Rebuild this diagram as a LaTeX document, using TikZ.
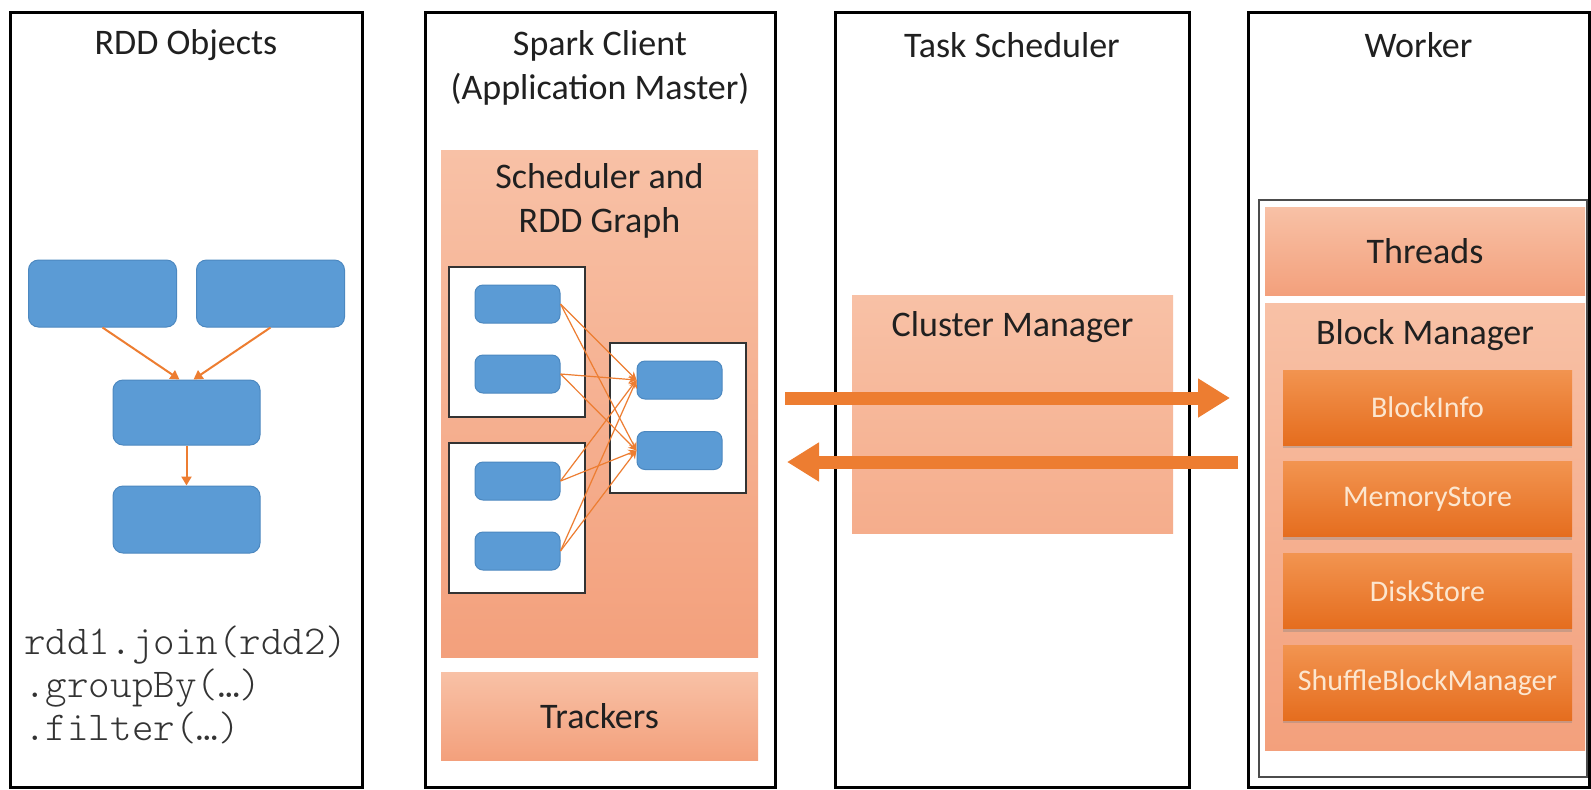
\documentclass[tikz,border=0pt]{standalone}
\usepackage{fontspec}
\setmainfont{Carlito}
\newfontfamily\codefont{lmmonolt10-regular.otf}
\usepackage{tikz}
\usetikzlibrary{positioning, arrows.meta, shadows}
\definecolor{salmon}{HTML}{F5AD8C}
\definecolor{salmonhi}{HTML}{F8C1A6}
\definecolor{salmonlo}{HTML}{F3A07C}
\definecolor{rddblue}{HTML}{5B9BD5}
\definecolor{rddedge}{HTML}{4C88C0}
\definecolor{flow}{HTML}{ED7D31}
\definecolor{ember}{HTML}{F29450}
\definecolor{emberlo}{HTML}{E56D1E}
\definecolor{cream}{HTML}{FCE6CF}
\definecolor{ink}{HTML}{202020}
\newcommand{\bigfont}{\fontsize{18}{22}\selectfont}

\begin{document}
\begin{tikzpicture}[x=0.5pt, y=-0.5pt,
  every node/.style={font=\bigfont, align=center, text=ink, inner sep=0pt},
  column/.style={draw=black, line width=1.5pt, fill=white, minimum height=387.5pt},
  panel/.style={top color=salmonhi, bottom color=salmonlo, minimum width=158.5pt},
  rdd/.style={fill=rddblue, draw=rddedge, line width=0.5pt, rounded corners=5pt},
  task/.style={rdd, rounded corners=4pt, minimum width=42.5pt, minimum height=19pt},
  stage/.style={draw=black!80, line width=1pt, fill=white, minimum width=68pt, minimum height=75pt},
  store/.style={top color=ember, bottom color=emberlo, text=cream,
    font=\fontsize{15}{18}\selectfont, minimum width=144.5pt, minimum height=37.5pt,
    drop shadow={shadow xshift=0pt, shadow yshift=-1.5pt, opacity=0.35}},
  dep/.style={draw=flow, line width=1pt, -{Triangle[length=4.5pt, width=5pt]}},
  shuffle/.style={draw=flow, line width=0.6pt, -{Stealth[length=4pt, width=4pt]}},
  msg/.style={draw=flow, line width=6.5pt, -{Triangle[length=16pt, width=18.5pt]}}]
\useasboundingbox (0,0) rectangle (1591,789);

% columns
\node[column, minimum width=176pt] (rddcol) at (186,399.5) {};
\node[column, minimum width=175pt] (client) at (600,399.5) {};
\node[column, minimum width=177pt] (tasks) at (1012,399.5) {};
\node[column, minimum width=170.5pt] (worker) at (1418.5,399.5) {};

\node (rddtitle) at (186,45) {RDD Objects};
\node (clienttitle) at (600,68) {Spark Client\\(Application Master)};
\node (taskstitle) at (1012,45) {Task Scheduler};
\node (workertitle) at (1418.5,45) {Worker};

% rdd objects
\node[rdd, minimum width=74pt, minimum height=33.5pt] (r1) at (102.5,293.5) {};
\node[rdd, minimum width=74pt, minimum height=33.5pt] (r2) at (270.5,293.5) {};
\node[rdd, minimum width=73.5pt, minimum height=32.5pt] (r3) at (186.5,412.5) {};
\node[rdd, minimum width=73.5pt, minimum height=33.5pt, below=20pt of r3] (r4) {};
\draw[dep] (r1.south) -- ([xshift=-3.5pt]r3.north);
\draw[dep] (r2.south) -- ([xshift=3.5pt]r3.north);
\draw[dep] (r3.south) -- (r4.north);

\node[anchor=west, align=left, font=\codefont\fontsize{20.5}{21.5}\selectfont, text=black!80]
  (code) at (24,685) {rdd1.join(rdd2)\\.groupBy(…)\\.filter(…)};

% spark client
\node[panel, minimum height=253.5pt] (sched) at (599.5,403.5) {};
\node (schedtitle) at (599.5,201) {Scheduler and\\RDD Graph};
\node[panel, minimum height=44pt] (trackers) at (599.5,716) {Trackers};

\node[stage] (g1) at (516.5,341.5) {};
\node[stage] (g2) at (516.5,518) {};
\node[stage] (g3) at (678,418) {};
\node[task] (b1) at (517.5,304) {};
\node[task] (b2) at (517.5,374) {};
\node[task] (b3) at (517.5,481) {};
\node[task] (b4) at (517.5,551) {};
\node[task] (b5) at (679.5,380) {};
\node[task] (b6) at (679.5,450.5) {};
\foreach \src in {b1,b2,b3,b4}
  \foreach \dst in {b5,b6}
    \draw[shuffle] (\src.east) -- (\dst.west);

% task scheduler
\node[panel, bottom color=salmon, minimum width=160.5pt, minimum height=119pt] (cm) at (1012.5,414) {};
\node (cmtitle) at (1012.5,327) {Cluster Manager};

% worker
\node[draw=black!70, line width=0.75pt, fill=white, minimum width=164pt, minimum height=288.5pt] (pool) at (1423,488.5) {};
\node[panel, minimum width=160pt, minimum height=44pt] (threads) at (1425,251) {Threads};
\node[panel, minimum width=160pt, minimum height=223.5pt] (bm) at (1425,526.5) {};
\node (bmtitle) at (1425,335) {Block Manager};
\node[store] (info) at (1427.5,407.5) {BlockInfo};
\node[store, below=8pt of info] (mem) {MemoryStore};
\node[store, below=8pt of mem] (disk) {DiskStore};
\node[store, below=8pt of disk] (shuf) {ShuffleBlockManager};

% messages
\coordinate (reqfrom) at (785,398);
\coordinate (reqto) at (1230,398);
\coordinate (respfrom) at (1238,462);
\coordinate (respto) at (787,462);
\draw[msg] (reqfrom) -- (reqto);
\draw[msg] (respfrom) -- (respto);
\end{tikzpicture}
\end{document}
